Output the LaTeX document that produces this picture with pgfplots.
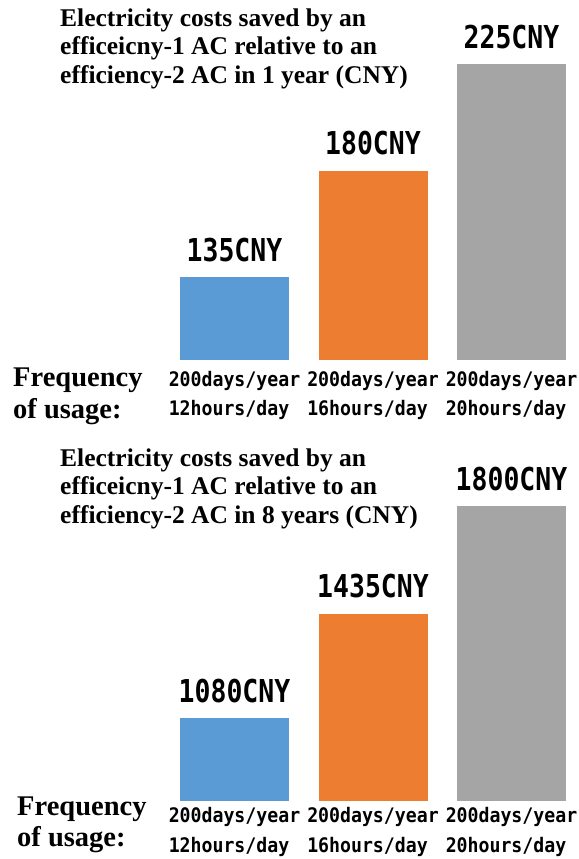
\documentclass[border=0pt]{standalone}
\usepackage{pgfplots}
\pgfplotsset{compat=1.18}
\usepackage{fontspec}
\setmainfont{Liberation Serif}
\newfontfamily\valfont[FakeStretch=0.84]{DejaVu Sans Mono}
\newfontfamily\catfont[FakeStretch=0.91]{DejaVu Sans Mono}
\definecolor{cblue}{HTML}{5B9BD5}
\definecolor{corange}{HTML}{ED7D31}
\definecolor{cgrey}{HTML}{A5A5A5}
\pgfplotsset{panel/.style={
  scale only axis, width=415.5bp, height=296bp,
  xmin=-0.5, xmax=2.5, clip=false,
  axis line style={draw=none}, major tick length=0pt,
  ytick=\empty, xtick={0,1,2},
  xticklabels={{200days/year\\12hours/day},{200days/year\\16hours/day},{200days/year\\20hours/day}},
  xticklabel style={align=left, inner sep=0pt, anchor=north, yshift=-11.5bp,
    font=\catfont\bfseries\fontsize{20bp}{28.5bp}\selectfont},
  ybar, bar width=109bp,
  /pgf/number format/assume math mode=true,
  /pgf/number format/1000 sep={},
  nodes near coords={\pgfmathprintnumber{\pgfplotspointmeta}CNY},
  every node near coord/.append style={anchor=base, inner sep=0pt, yshift=16bp,
    font=\valfont\bfseries\fontsize{31.5bp}{31.5bp}\selectfont, text=black},
}}
\begin{document}
\begin{tikzpicture}
\path[use as bounding box] (0,0) rectangle (579bp,-859bp);
% top panel
\begin{axis}[panel, at={(165.25bp,-360bp)}, anchor=south west, ymin=100, ymax=225]
\addplot[fill=cblue, draw=none, bar shift=0pt] coordinates {(0,135)};
\addplot[fill=corange, draw=none, bar shift=0pt] coordinates {(1,180)};
\addplot[fill=cgrey, draw=none, bar shift=0pt] coordinates {(2,225)};
\end{axis}
% bottom panel
\begin{axis}[panel, at={(165.25bp,-801bp)}, anchor=south west, ymin=800, ymax=1800, height=295bp,
  xticklabel style={yshift=5.5bp, font=\catfont\bfseries\fontsize{20bp}{29.7bp}\selectfont}]
\addplot[fill=cblue, draw=none, bar shift=0pt] coordinates {(0,1080)};
\addplot[fill=corange, draw=none, bar shift=0pt] coordinates {(1,1435)};
\addplot[fill=cgrey, draw=none, bar shift=0pt] coordinates {(2,1800)};
\end{axis}
\tikzset{ttl/.style={anchor=base west, inner sep=0pt, font=\bfseries\fontsize{25.5bp}{28bp}\selectfont},
         frq/.style={anchor=base west, inner sep=0pt, font=\bfseries\fontsize{28.5bp}{30bp}\selectfont}}
\node[ttl] at (60bp,-26bp) {Electricity costs saved by an};
\node[ttl] at (60bp,-54.5bp) {efficeicny-1 AC relative to an};
\node[ttl] at (60bp,-83bp) {efficiency-2 AC in 1 year (CNY)};
\node[ttl] at (60bp,-466bp) {Electricity costs saved by an};
\node[ttl] at (60bp,-494.5bp) {efficeicny-1 AC relative to an};
\node[ttl] at (60bp,-523bp) {efficiency-2 AC in 8 years (CNY)};
\node[frq] at (13bp,-386bp) {Frequency};
\node[frq] at (13bp,-418bp) {of usage:};
\node[frq] at (17bp,-815bp) {Frequency};
\node[frq] at (17bp,-846.5bp) {of usage:};
\end{tikzpicture}
\end{document}
